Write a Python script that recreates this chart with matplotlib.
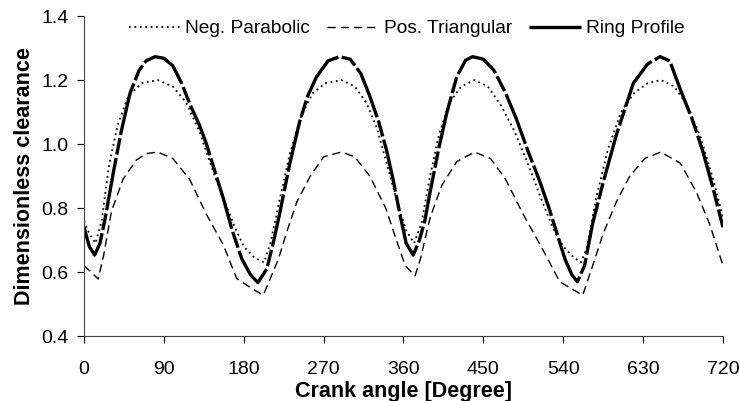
import matplotlib.pyplot as plt

plt.rcParams['font.family'] = ['Liberation Sans', 'DejaVu Sans']

# crank angle [deg] and dimensionless clearance for each profile
ring_deg = [0, 6, 12, 18, 24, 33, 42, 52, 62, 70, 80, 90, 100, 110, 120, 130,
            138, 148, 157, 167, 178, 188, 196, 206, 214, 221, 232, 243, 252,
            262, 275, 288, 300, 312, 322, 332, 341, 349, 356, 363, 371, 378,
            384, 390, 400, 409, 420, 430, 438, 450, 462, 475, 487, 500, 514,
            524, 533, 542, 550, 556, 564, 573, 585, 600, 619, 635, 649, 660,
            672, 685, 697, 709, 720]
ring_val = [0.74, 0.68, 0.653, 0.69, 0.77, 0.91, 1.04, 1.16, 1.23, 1.26, 1.273,
            1.268, 1.245, 1.19, 1.12, 1.06, 1.00, 0.91, 0.83, 0.73, 0.64, 0.59,
            0.567, 0.61, 0.70, 0.79, 0.94, 1.07, 1.15, 1.21, 1.26, 1.273, 1.265,
            1.22, 1.15, 1.07, 0.98, 0.88, 0.78, 0.69, 0.653, 0.70, 0.76, 0.85,
            0.99, 1.10, 1.21, 1.262, 1.273, 1.265, 1.23, 1.16, 1.08, 0.98, 0.88,
            0.80, 0.72, 0.64, 0.59, 0.57, 0.62, 0.75, 0.88, 1.03, 1.19, 1.25,
            1.273, 1.26, 1.17, 1.08, 0.98, 0.86, 0.74]

para_deg = [0, 6, 13, 20, 28, 38, 50, 65, 83, 100, 115, 130, 146, 160, 170,
            180, 192, 203, 210, 220, 232, 245, 258, 272, 290, 305, 318, 330,
            343, 355, 363, 372, 380, 390, 400, 412, 425, 440, 455, 470, 485,
            500, 515, 528, 540, 552, 560, 567, 577, 590, 605, 620, 635, 650,
            665, 680, 695, 710, 720]
para_val = [0.76, 0.72, 0.69, 0.76, 0.93, 1.06, 1.15, 1.19, 1.20, 1.18, 1.13,
            1.04, 0.91, 0.81, 0.74, 0.68, 0.645, 0.63, 0.69, 0.82, 0.97, 1.09,
            1.16, 1.19, 1.20, 1.18, 1.13, 1.05, 0.92, 0.80, 0.73, 0.69, 0.75,
            0.90, 1.03, 1.13, 1.18, 1.20, 1.18, 1.12, 1.04, 0.94, 0.83, 0.74,
            0.68, 0.645, 0.63, 0.68, 0.83, 0.98, 1.10, 1.16, 1.19, 1.20, 1.18,
            1.12, 1.02, 0.88, 0.77]

tri_deg = [0, 8, 16, 22, 31, 44, 59, 70, 83, 100, 119, 138, 157, 172, 191,
           202, 210, 219, 229, 240, 255, 270, 290, 305, 322, 340, 352, 362,
           373, 379, 390, 403, 420, 440, 458, 475, 495, 517, 536, 551, 562,
           572, 585, 600, 615, 632, 650, 672, 690, 705, 720]
tri_val = [0.62, 0.60, 0.578, 0.65, 0.79, 0.89, 0.95, 0.97, 0.975, 0.955, 0.89,
           0.78, 0.685, 0.58, 0.545, 0.528, 0.58, 0.64, 0.73, 0.82, 0.90, 0.96,
           0.975, 0.96, 0.90, 0.80, 0.70, 0.62, 0.588, 0.64, 0.77, 0.87, 0.945,
           0.975, 0.955, 0.89, 0.78, 0.67, 0.57, 0.545, 0.528, 0.61, 0.72, 0.82,
           0.90, 0.955, 0.975, 0.94, 0.85, 0.75, 0.62]

x_ticks = [0, 90, 180, 270, 360, 450, 540, 630, 720]
y_ticks = [0.4, 0.6, 0.8, 1.0, 1.2, 1.4]

fig = plt.figure(figsize=(7.4, 4.01), dpi=100)
ax = fig.add_axes([0.1135, 0.162, 0.8635, 0.798])

ax.plot(para_deg, para_val, color='black', lw=1.3, ls=(0, (1, 2)),
        label='Neg. Parabolic')
ax.plot(tri_deg, tri_val, color='black', lw=1.0, ls=(0, (6, 3.5)),
        label='Pos. Triangular')
ax.plot(ring_deg, ring_val, color='black', lw=2.4, ls=(0, (16, 1, 5, 1)),
        label='Ring Profile')

ax.set_xlim(0, 720)
ax.set_ylim(0.4, 1.4)
ax.set_xticks(x_ticks)
ax.set_yticks(y_ticks)
ax.set_yticklabels(['%.1f' % v for v in y_ticks])
ax.tick_params(direction='out', length=5, width=0.8, labelsize=14, pad=6)
ax.tick_params(axis='x', pad=13)

for side in ('top', 'right'):
    ax.spines[side].set_visible(False)
for side in ('left', 'bottom'):
    ax.spines[side].set_linewidth(0.8)
    ax.spines[side].set_color('#444444')

ax.set_xlabel('Crank angle [Degree]', fontsize=15.5, fontweight='bold', labelpad=2)
ax.set_ylabel('Dimensionless clearance', fontsize=15.5, fontweight='bold', labelpad=5)

ax.legend(loc='upper center', bbox_to_anchor=(0.505, 1.042), ncol=3, frameon=False,
          fontsize=13.8, handlelength=2.7, handletextpad=0.25, columnspacing=0.9)

plt.savefig('out.png', dpi=100)
plt.close()
